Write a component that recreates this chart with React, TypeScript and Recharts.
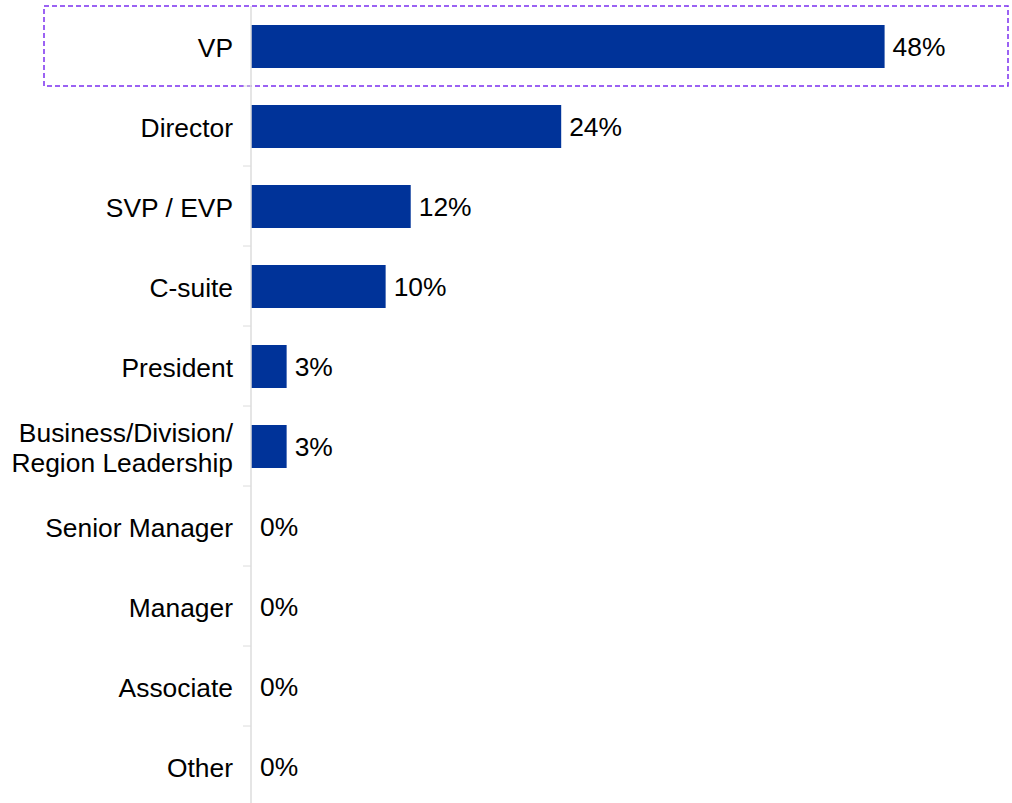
import { Bar, BarChart, Cell, LabelList, ReferenceArea, XAxis, YAxis } from "recharts";

const categories = [
  "VP",
  "Director",
  "SVP / EVP",
  "C-suite",
  "President",
  "Business/Division/\nRegion Leadership",
  "Senior Manager",
  "Manager",
  "Associate",
  "Other",
];
// bar lengths as measured; labels show rounded percentages
const shares = [48, 23.5, 12.1, 10.2, 2.7, 2.7, 0, 0, 0, 0];
const highlighted = "VP";

const data = categories.map((name, i) => ({ name, value: shares[i] }));

const FONT = "'Liberation Sans', Arial, Helvetica, sans-serif";
const BAR_COLOR = "#003399";
const AXIS_GRAY = "#dcdcdc";

// tick label, plus a short tick mark on the band boundary below it
function CategoryTick(props: any) {
  const { x, y, payload } = props;
  const lines = String(payload.value).split("\n");
  const half = payload.offset ?? 40;
  const lineH = 30;
  const start = -((lines.length - 1) * lineH) / 2;
  return (
    <g>
      <line x1={x + 10} x2={x + 18} y1={y + half} y2={y + half} stroke={AXIS_GRAY} strokeWidth={1} />
      <text x={x} y={y} textAnchor="end" fontSize={26.4} fill="#000" fontFamily={FONT}>
        {lines.map((l, i) => (
          <tspan key={i} x={x} y={y + start + i * lineH} dy="0.42em">
            {l}
          </tspan>
        ))}
      </text>
    </g>
  );
}

// dashed box around the highlighted row, stretched over the labels too
function HighlightBox(props: any) {
  const { y, height } = props;
  return (
    <rect
      x={44}
      y={y}
      width={1008 - 44}
      height={height}
      fill="none"
      stroke="#7b2ff0"
      strokeWidth={1.5}
      strokeDasharray="5 3"
    />
  );
}

export default function App() {
  return (
    <div style={{ position: "absolute", left: 0, top: 0, width: 1012, height: 803, overflow: "hidden", background: "#fff" }}>
      <BarChart
        width={1012}
        height={810}
        data={data}
        layout="vertical"
        margin={{ top: 6, right: 101, bottom: 4, left: 0 }}
        barSize={43}
      >
        <XAxis type="number" domain={[0, 50]} hide />
        <YAxis
          type="category"
          dataKey="name"
          width={251}
          interval={0}
          axisLine={{ stroke: AXIS_GRAY, strokeWidth: 1.5 }}
          tickLine={false}
          tickSize={8}
          tickMargin={10}
          tick={<CategoryTick />}
        />
        <ReferenceArea y1={highlighted} y2={highlighted} ifOverflow="visible" shape={<HighlightBox />} />
        <Bar dataKey="value" fill={BAR_COLOR} minPointSize={1} isAnimationActive={false}>
          {data.map((d, i) => (
            <Cell key={`c-${i}`} fill={d.value > 0 ? BAR_COLOR : "transparent"} />
          ))}
          <LabelList
            dataKey="value"
            position="right"
            offset={8}
            fill="#000"
            fontSize={26.4}
            fontFamily={FONT}
            formatter={(v: any) => `${Math.round(Number(v))}%`}
          />
        </Bar>
      </BarChart>
    </div>
  );
}
